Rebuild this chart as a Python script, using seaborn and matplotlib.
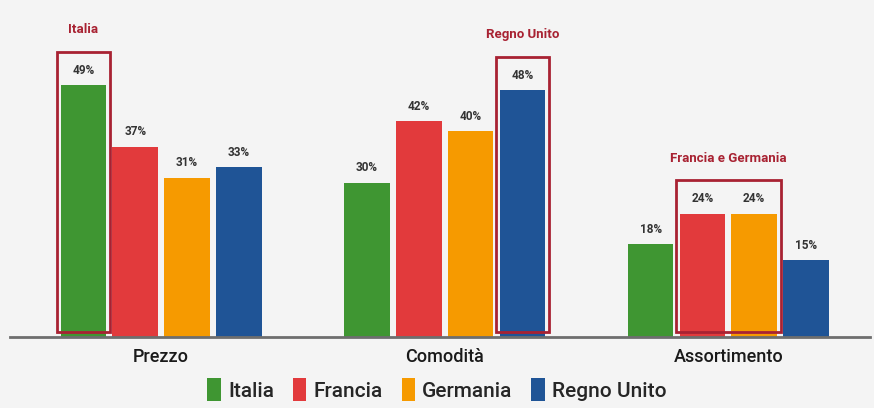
import matplotlib
matplotlib.use("Agg")
import matplotlib.pyplot as plt
import seaborn as sns
import pandas as pd
from matplotlib.patches import Rectangle, Patch

categories = ["Prezzo", "Comodità", "Assortimento"]
countries = ["Italia", "Francia", "Germania", "Regno Unito"]
italia = [49, 30, 18]
francia = [37, 42, 24]
germania = [31, 40, 24]
regno_unito = [33, 48, 15]
colors = ["#3f9632", "#e23a3c", "#f69a00", "#1f5496"]
hl_color = "#a82232"

rows = []
for c, vals in zip(countries, [italia, francia, germania, regno_unito]):
    for cat, v in zip(categories, vals):
        rows.append({"cat": cat, "country": c, "val": v})
df = pd.DataFrame(rows)

sns.set_theme(style="white")
plt.rcParams["font.family"] = ["Roboto", "DejaVu Sans"]

bg = "#f4f4f4"
fig = plt.figure(figsize=(8.74, 4.08), dpi=100, facecolor=bg)
ax = fig.add_axes([10/874, 71/408, 860/874, 329/408])
ax.set_facecolor(bg)

sns.barplot(data=df, x="cat", y="val", hue="country", order=categories,
            hue_order=countries, palette=colors, width=0.73, gap=0.12,
            saturation=1, legend=False, linewidth=0, ax=ax)

ax.set_xlim(-0.533, 2.5)
ax.set_ylim(0, 64)
ax.set_xlabel("")
ax.set_ylabel("")
ax.set_yticks([])
ax.tick_params(axis="x", length=0, pad=8, labelcolor="#1a1a1a")
for lab in ax.get_xticklabels():
    lab.set_fontsize(13)
    lab.set_fontweight("medium")
for s in ["top", "left", "right"]:
    ax.spines[s].set_visible(False)
ax.spines["bottom"].set_color("#6e6e6e")
ax.spines["bottom"].set_linewidth(2)

for cont in ax.containers:
    ax.bar_label(cont, fmt="%d%%", padding=6, fontsize=8.5, fontweight="bold",
                 color="#333333")

def box(bars, title):
    x0 = min(b.get_x() for b in bars) - 0.013
    x1 = max(b.get_x() + b.get_width() for b in bars) + 0.013
    top = max(b.get_height() for b in bars) + 6.5
    ax.add_patch(Rectangle((x0, 0.9), x1 - x0, top - 0.9, fill=False,
                           edgecolor=hl_color, linewidth=2, zorder=5))
    ax.text((x0 + x1) / 2, top + 4.3, title, ha="center", va="center",
            fontsize=9.5, fontweight="bold", color=hl_color)

ci = {c: i for i, c in enumerate(countries)}
ki = {c: i for i, c in enumerate(categories)}
box([ax.containers[ci["Italia"]][ki["Prezzo"]]], "Italia")
box([ax.containers[ci["Regno Unito"]][ki["Comodità"]]], "Regno Unito")
box([ax.containers[ci["Francia"]][ki["Assortimento"]],
     ax.containers[ci["Germania"]][ki["Assortimento"]]], "Francia e Germania")

handles = [Patch(facecolor=col, edgecolor="none", label=c) for c, col in zip(countries, colors)]
fig.legend(handles=handles, loc="lower center", bbox_to_anchor=(0.5, -0.03), ncol=4,
           frameon=False, prop={"size": 15, "weight": "medium"},
           handlelength=0.65, handleheight=1.35,
           handletextpad=0.35, columnspacing=0.9)

fig.savefig("out.png", dpi=100, facecolor=bg)
